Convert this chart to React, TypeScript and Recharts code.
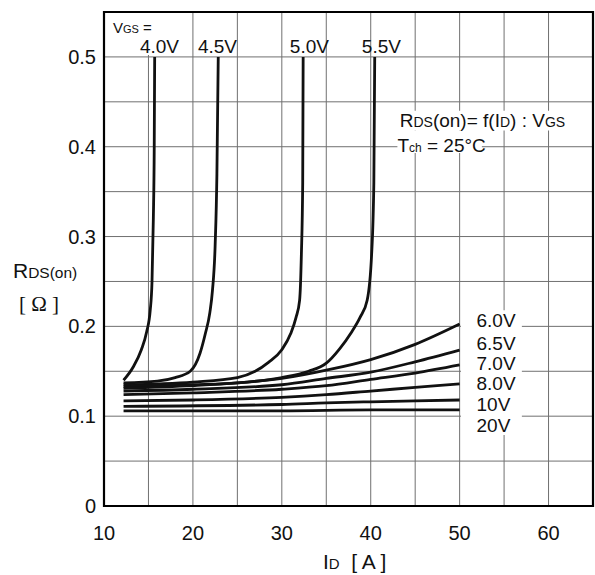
import React from 'react';
import {
  LineChart,
  Line,
  XAxis,
  YAxis,
  CartesianGrid,
  ReferenceArea,
  ReferenceDot,
  Label,
} from 'recharts';

type Pt = [number, number];

// Drain current I_D [A] against on-resistance R_DS(on) [Ω], one curve per V_GS
const vgs40: Pt[] = [[12.2, 0.14], [13.3, 0.155], [14.2, 0.174], [14.8, 0.194], [15.2, 0.218], [15.4, 0.25], [15.55, 0.32], [15.65, 0.4], [15.7, 0.5]];
const vgs45: Pt[] = [[12.2, 0.137], [16, 0.139], [18, 0.143], [19.7, 0.15], [20.8, 0.17], [21.4, 0.192], [21.9, 0.215], [22.2, 0.24], [22.5, 0.29], [22.7, 0.37], [22.85, 0.5]];
const vgs50: Pt[] = [[12.2, 0.135], [20, 0.138], [25, 0.143], [27, 0.15], [28.5, 0.16], [30, 0.174], [31, 0.192], [31.6, 0.21], [32.0, 0.229], [32.2, 0.28], [32.35, 0.36], [32.4, 0.5]];
const vgs55: Pt[] = [[12.2, 0.133], [20, 0.135], [25, 0.137], [30, 0.143], [33, 0.15], [35, 0.159], [36.5, 0.175], [37.8, 0.193], [38.8, 0.21], [39.6, 0.229], [40.1, 0.28], [40.35, 0.36], [40.45, 0.5]];
const vgs60: Pt[] = [[12.2, 0.131], [20, 0.134], [25, 0.137], [30, 0.142], [35.4, 0.152], [40, 0.163], [45, 0.18], [50, 0.2026]];
const vgs65: Pt[] = [[12.2, 0.128], [20, 0.13], [30, 0.135], [35, 0.142], [40, 0.149], [45, 0.1605], [50, 0.1736]];
const vgs70: Pt[] = [[12.2, 0.124], [20, 0.126], [30, 0.13], [35, 0.134], [40, 0.141], [45, 0.148], [50, 0.157]];
const vgs80: Pt[] = [[12.2, 0.117], [20, 0.118], [30, 0.121], [35, 0.124], [40, 0.128], [45, 0.132], [50, 0.136]];
const vgs10: Pt[] = [[12.2, 0.111], [30, 0.113], [35, 0.1148], [40, 0.116], [45, 0.117], [50, 0.118]];
const vgs20: Pt[] = [[12.2, 0.106], [30, 0.106], [40, 0.107], [50, 0.107]];

const curves: Pt[][] = [vgs40, vgs45, vgs50, vgs55, vgs60, vgs65, vgs70, vgs80, vgs10, vgs20];

// Axis ticks: grid every 5 A / 0.05 Ω, labels on the decades
const xTicks = [10, 15, 20, 25, 30, 35, 40, 45, 50, 55, 60, 65];
const xTickLabels = ['10', '20', '30', '40', '50', '60'];
const yTicks = [0, 0.05, 0.1, 0.15, 0.2, 0.25, 0.3, 0.35, 0.4, 0.45, 0.5, 0.55];
const yTickLabels = ['0', '0.1', '0.2', '0.3', '0.4', '0.5'];

// Curve names and where they are written (data coordinates)
const topNames = ['4.0V', '4.5V', '5.0V', '5.5V'];
const topNameAt: Pt[] = [[14.04, 0.5125], [20.56, 0.5125], [30.9, 0.5125], [39.0, 0.5125]];
const sideNames = ['6.0V', '6.5V', '7.0V', '8.0V', '10V', '20V'];
const sideNameAt: Pt[] = [[51.9, 0.207], [51.9, 0.1813], [51.9, 0.159], [51.9, 0.1368], [51.9, 0.1134], [51.9, 0.09]];

const SANS = '"Liberation Sans", Arial, Helvetica, sans-serif';
const SERIF = '"Liberation Serif", "Times New Roman", serif';
const INK = '#111';

type Part = [string, number];

function Tag(props: any) {
  const { viewBox, parts, size } = props;
  const x = viewBox?.x ?? 0;
  const y = viewBox?.y ?? 0;
  return (
    <text x={x} y={y + size * 0.36} fontFamily={SANS} fill={INK} style={{ whiteSpace: 'pre' }}>
      {(parts as Part[]).map(([t, s], i) => (
        <tspan key={i} fontSize={s}>
          {t}
        </tspan>
      ))}
    </text>
  );
}

const rows = (pts: Pt[]) => pts.map(([x, r]) => ({ x, r }));

const fmtX = (v: number) => {
  const s = String(v);
  return xTickLabels.includes(s) ? s : '';
};
const fmtY = (v: number) => {
  const s = v === 0 ? '0' : v.toFixed(2).replace(/0$/, '');
  return yTickLabels.includes(s) ? s : '';
};

const YTitle = (props: any) => {
  const { viewBox } = props;
  const x0 = viewBox.x + 13;
  const cy = viewBox.y + viewBox.height / 2;
  return (
    <g>
      <text x={x0} y={cy + 19} fontFamily={SANS} fill={INK}>
        <tspan fontSize={21}>R</tspan>
        <tspan fontSize={15.5}>DS(on)</tspan>
      </text>
      <text x={x0 + 6} y={cy + 52} fontFamily={SERIF} fontSize={21} fill={INK} style={{ whiteSpace: 'pre' }}>
        {'[ Ω ]'}
      </text>
    </g>
  );
};

const XTitle = (props: any) => {
  const { viewBox } = props;
  return (
    <text x={323} y={viewBox.y + 63} fontFamily={SANS} fill={INK} style={{ whiteSpace: 'pre' }}>
      <tspan fontSize={21}>I</tspan>
      <tspan fontSize={15}>D</tspan>
      <tspan fontSize={21}>{'  [ A ]'}</tspan>
    </text>
  );
};

export default function App() {
  return (
    <div style={{ position: 'absolute', left: 0, top: 0, width: 595, height: 575, background: '#fff' }}>
      <LineChart width={595} height={575} margin={{ top: 12, right: 2, bottom: 0, left: 0 }}>
        <CartesianGrid stroke="#707070" strokeWidth={1} />
        <XAxis
          type="number"
          dataKey="x"
          domain={[10, 65]}
          ticks={xTicks}
          allowDataOverflow
          tickFormatter={fmtX}
          axisLine={false}
          tickLine={false}
          tickMargin={14}
          height={69}
          tick={{ fontFamily: SANS, fontSize: 20, fill: INK }}
        >
          <Label content={<XTitle />} />
        </XAxis>
        <YAxis
          type="number"
          domain={[0, 0.55]}
          ticks={yTicks}
          allowDataOverflow
          tickFormatter={fmtY}
          axisLine={false}
          tickLine={false}
          width={104}
          tick={{ fontFamily: SANS, fontSize: 20, fill: INK }}
        >
          <Label content={<YTitle />} />
        </YAxis>

        {/* paper behind the printed captions */}
        <ReferenceArea x1={11} x2={18.6} y1={0.502} y2={0.55} fill="#fff" fillOpacity={1} stroke="none" />
        <ReferenceArea x1={43.1} x2={61.3} y1={0.418} y2={0.44} fill="#fff" fillOpacity={1} stroke="none" />
        <ReferenceArea x1={43} x2={52.5} y1={0.393} y2={0.418} fill="#fff" fillOpacity={1} stroke="none" />
        <ReferenceArea x1={50.15} x2={57} y1={0.079} y2={0.218} fill="#fff" fillOpacity={1} stroke="none" />

        {/* frame */}
        <ReferenceArea x1={10} x2={65} y1={0} y2={0.55} fill="none" stroke="#000" strokeWidth={2.2} />

        {curves.map((c, i) => (
          <Line
            key={i}
            data={rows(c)}
            dataKey="r"
            type="monotone"
            stroke={INK}
            strokeWidth={2.8}
            dot={false}
            activeDot={false}
            isAnimationActive={false}
          />
        ))}

        <ReferenceDot
          x={11.0}
          y={0.5326}
          r={0}
          fill="none"
          stroke="none"
          label={<Tag size={15} parts={[['V', 15], ['GS', 11], [' =', 15]]} />}
        />
        {topNames.map((n, i) => (
          <ReferenceDot
            key={n}
            x={topNameAt[i][0]}
            y={topNameAt[i][1]}
            r={0}
            fill="none"
            stroke="none"
            label={<Tag size={19} parts={[[n, 19]]} />}
          />
        ))}
        {sideNames.map((n, i) => (
          <ReferenceDot
            key={n}
            x={sideNameAt[i][0]}
            y={sideNameAt[i][1]}
            r={0}
            fill="none"
            stroke="none"
            label={<Tag size={19} parts={[[n, 19]]} />}
          />
        ))}
        <ReferenceDot
          x={43.26}
          y={0.43}
          r={0}
          fill="none"
          stroke="none"
          label={
            <Tag
              size={19}
              parts={[['R', 19], ['DS', 14], ['(on)= f(', 19], ['I', 19], ['D', 14], [') : ', 19], ['V', 19], ['GS', 14]]}
            />
          }
        />
        <ReferenceDot
          x={43.0}
          y={0.402}
          r={0}
          fill="none"
          stroke="none"
          label={<Tag size={19} parts={[['T', 19], ['ch', 12], [' = 25°C', 19]]} />}
        />
      </LineChart>
    </div>
  );
}
